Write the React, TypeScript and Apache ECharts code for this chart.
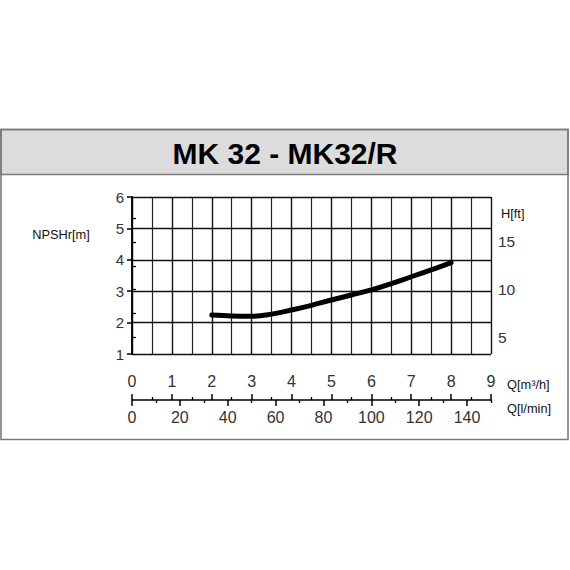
import React, { useEffect, useRef } from "react";
import * as echarts from "echarts";

// Data
const flowM3h = [2, 2.5, 3, 3.5, 4, 4.5, 5, 5.5, 6, 6.5, 7, 7.5, 8];
const npshr = [2.24, 2.21, 2.2, 2.27, 2.4, 2.55, 2.72, 2.88, 3.04, 3.24, 3.46, 3.68, 3.91];
const ftTicks = [5, 7.5, 10, 12.5, 15, 17.5];
const ftLabels = [5, 10, 15];
const lminMinorTicks = [10, 30, 50, 70, 90, 110, 130, 150];
const title = "MK 32 - MK32/R";

const M_TO_FT = 3.28084;
const FONT = "'Liberation Sans', Arial, sans-serif";
const LABEL_COLOR = "#333";
const NAME_FONT = `12.8px ${FONT}`;

export default function App() {
  const ref = useRef<HTMLDivElement>(null);

  useEffect(() => {
    if (!ref.current) return;
    const chart = echarts.init(ref.current, null, { renderer: "svg" });
    const data = flowM3h.map((q, i) => [q, npshr[i]]);

    chart.setOption({
      animation: false,
      backgroundColor: "#fff",
      textStyle: { fontFamily: FONT },
      grid: { left: 132, top: 197, right: 79, bottom: 216, containLabel: false },
      xAxis: [
        {
          type: "value",
          min: 0,
          max: 9,
          interval: 1,
          position: "bottom",
          offset: 46,
          axisLine: { show: false },
          axisTick: { show: true, inside: true, length: 6, lineStyle: { color: "#000", width: 1.5 } },
          minorTick: { show: true, splitNumber: 2, length: 3, lineStyle: { color: "#000", width: 1.3 } },
          axisLabel: { inside: true, margin: 11, fontSize: 16, color: LABEL_COLOR, fontFamily: FONT },
          splitLine: { show: true, lineStyle: { color: "#111", width: 1.4 } },
          minorSplitLine: { show: true, lineStyle: { color: "#222", width: 1.2 } },
        },
        {
          type: "value",
          min: 0,
          max: 150,
          interval: 20,
          position: "bottom",
          offset: 46,
          axisLine: { show: true, lineStyle: { color: "#000", width: 1.6 } },
          axisTick: { show: true, inside: false, length: 6, lineStyle: { color: "#000", width: 1.5 } },
          axisLabel: { margin: 9, fontSize: 16, color: LABEL_COLOR, fontFamily: FONT, showMaxLabel: false },
          splitLine: { show: false },
        },
        {
          type: "value",
          min: 0,
          max: 150,
          position: "bottom",
          offset: 46,
          axisLine: { show: false },
          axisTick: { show: true, inside: false, length: 3, customValues: lminMinorTicks, lineStyle: { color: "#000", width: 1.3 } },
          axisLabel: { show: false },
          splitLine: { show: false },
        },
      ],
      yAxis: [
        {
          type: "value",
          min: 1,
          max: 6,
          interval: 1,
          position: "left",
          axisLine: { show: true, lineStyle: { color: "#000", width: 1.5 } },
          axisTick: { show: true, inside: false, length: 5, lineStyle: { color: "#000", width: 1.5 } },
          axisLabel: { margin: 8, fontSize: 15, color: LABEL_COLOR, fontFamily: FONT },
          splitLine: { show: true, lineStyle: { color: "#111", width: 1.4 } },
        },
        {
          type: "value",
          min: 1 * M_TO_FT,
          max: 6 * M_TO_FT,
          position: "right",
          axisLine: { show: true, lineStyle: { color: "#000", width: 1.5 } },
          axisTick: { show: true, inside: false, length: 4, customValues: ftTicks, lineStyle: { color: "#000", width: 1.3 } },
          axisLabel: { margin: 7, fontSize: 15.5, color: LABEL_COLOR, fontFamily: FONT, customValues: ftLabels },
          splitLine: { show: false },
        },
      ],
      series: [
        {
          type: "line",
          xAxisIndex: 0,
          yAxisIndex: 0,
          data,
          smooth: 0.4,
          showSymbol: false,
          symbol: "none",
          lineStyle: { color: "#000", width: 5, cap: "round", join: "round" },
          z: 5,
        },
      ],
      graphic: [
        {
          type: "rect",
          shape: { x: 1, y: 129.5, width: 567, height: 45 },
          style: { fill: "#dcdcdc", stroke: "#7a7a7a", lineWidth: 1.6 },
          z: -1,
        },
        {
          type: "rect",
          shape: { x: 1, y: 129.5, width: 567, height: 310 },
          style: { fill: "none", stroke: "#7a7a7a", lineWidth: 1.6 },
          z: -1,
        },
        {
          type: "text",
          x: 285,
          y: 153,
          style: {
            text: title,
            fill: "#000",
            font: `bold 30px ${FONT}`,
            align: "center",
            verticalAlign: "middle",
          },
        },
        {
          type: "text",
          x: 61,
          y: 234,
          style: { text: "NPSHr[m]", fill: "#111", font: NAME_FONT, align: "center", verticalAlign: "middle" },
        },
        {
          type: "text",
          x: 501,
          y: 213,
          style: { text: "H[ft]", fill: "#111", font: NAME_FONT, align: "left", verticalAlign: "middle" },
        },
        {
          type: "text",
          x: 507,
          y: 384,
          style: { text: "Q[m³/h]", fill: "#111", font: NAME_FONT, align: "left", verticalAlign: "middle" },
        },
        {
          type: "text",
          x: 507,
          y: 408,
          style: { text: "Q[l/min]", fill: "#111", font: NAME_FONT, align: "left", verticalAlign: "middle" },
        },
      ],
    });

    return () => chart.dispose();
  }, []);

  return (
    <div
      ref={ref}
      style={{ position: "fixed", left: 0, top: 0, width: 570, height: 570 }}
    />
  );
}
